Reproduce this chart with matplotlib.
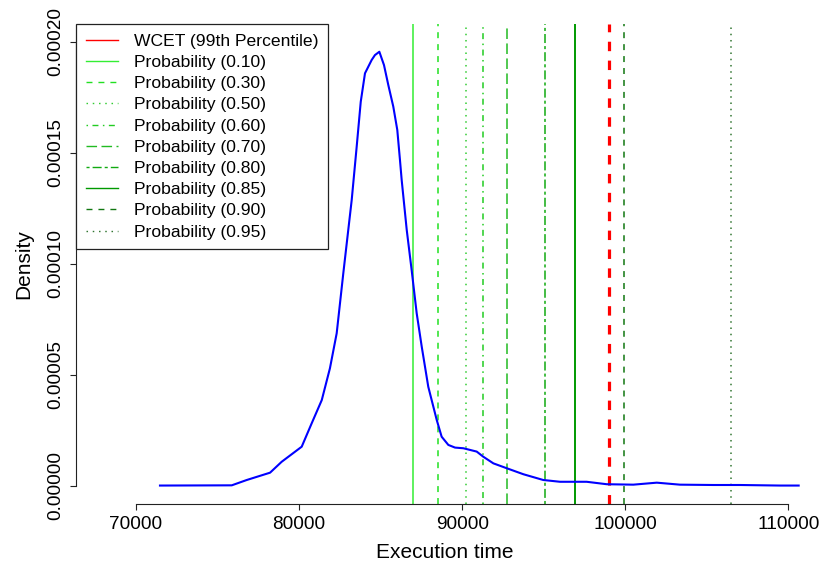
import numpy as np
import matplotlib.pyplot as plt
from matplotlib.lines import Line2D

plt.rcParams['font.family'] = ['Liberation Sans', 'DejaVu Sans']
plt.rcParams['lines.scale_dashes'] = False

# density curve
exec_time = [71470, 75870, 76790, 78220, 78930, 80160, 80770, 81390, 81890, 82305,
             82710, 83225, 83530, 83780, 84040, 84450, 84650, 84920, 85205, 85470,
             85775, 86020, 86185, 86290, 86600, 86900, 87210, 87520, 87920, 88440,
             88740, 89150, 89560, 90070, 90890, 91290, 91910, 92730, 93750, 94970,
             96000, 97630, 98860, 100490, 101930, 103350, 105400, 107030, 109490, 110630]
density = [0.2, 0.3, 2.7, 6.0, 10.9, 17.7, 28.2, 38.7, 53.0, 68.8,
           95.8, 128.8, 152.8, 173.1, 185.9, 191.9, 194.1, 195.6, 189.6, 180.6,
           170.9, 160.4, 146.8, 137.8, 115.3, 97.3, 77.8, 62.7, 44.7, 29.7,
           22.2, 18.5, 17.3, 17.0, 15.5, 13.2, 10.2, 8.0, 5.3, 2.7,
           1.9, 1.9, 0.8, 0.6, 1.5, 0.6, 0.45, 0.45, 0.2, 0.2]
density = np.array(density) * 1e-6

wcet = 98981
prob_labels = ["0.10", "0.30", "0.50", "0.60", "0.70", "0.80", "0.85", "0.90", "0.95"]
prob_values = [86965, 88535, 90213, 91295, 92766, 95057, 96896, 99901, 106481]

prob_colors = ['#33ee33', '#22e022', '#33cc33', '#22cc22', '#22bb22',
               '#11aa11', '#009900', '#117711', '#337733']
prob_dashes = [None, (4.3, 4.3), (1.1, 3.4), (1.1, 3.2, 4.3, 3.2), (7.6, 3.2),
               (2.2, 2.2, 6.5, 2.2), None, (4.3, 4.3), (1.1, 3.4)]
prob_widths = [1.1, 1.1, 1.1, 1.1, 1.1, 1.1, 1.4, 1.1, 1.1]

fig = plt.figure(figsize=(8.23, 5.70), dpi=100)
ax = fig.add_axes([76/823, 66/570, (813-76)/823, (504-24)/570])

ax.plot(exec_time, density, color='#0000ff', lw=1.5, zorder=3)

ax.axvline(wcet, color='#ff0000', lw=2.3, dashes=(6.8, 6.8))
handles = [Line2D([], [], color='#ff0000', lw=1.0)]
labels = ['WCET (99th Percentile)']
for lab, v, c, d, w in zip(prob_labels, prob_values, prob_colors, prob_dashes, prob_widths):
    kw = {} if d is None else {'dashes': d}
    ax.axvline(v, color=c, lw=w, **kw)
    handles.append(Line2D([], [], color=c, lw=1.0, **kw))
    labels.append(f'Probability ({lab})')

ax.set_xlim(66321, 111509)
ax.set_ylim(-8.11e-6, 208.1e-6)

for s in ['top', 'right']:
    ax.spines[s].set_visible(False)
ax.spines['left'].set_bounds(0, 0.0002)
ax.spines['bottom'].set_bounds(70000, 110000)
for s in ['left', 'bottom']:
    ax.spines[s].set_linewidth(0.8)
    ax.spines[s].set_color('#222222')

ax.set_xticks([70000, 80000, 90000, 100000, 110000])
ax.set_xticklabels(['70000', '80000', '90000', '100000', '110000'])
yt = [0, 0.00005, 0.0001, 0.00015, 0.0002]
ax.set_yticks(yt)
ax.set_yticklabels([f'{v:.5f}' for v in yt], rotation=90, va='center')
ax.tick_params(direction='out', length=4.5, width=0.8, color='#222222',
               labelsize=13.7, pad=4)

ax.set_xlabel('Execution time', fontsize=15, labelpad=7.5)
ax.set_ylabel('Density', fontsize=15, labelpad=10)

leg = ax.legend(handles, labels, loc='upper left', borderaxespad=0,
                fontsize=12.6, fancybox=False, framealpha=1, edgecolor='#222222',
                handlelength=1.86, handletextpad=0.9, labelspacing=0.34,
                borderpad=0.55)
leg.get_frame().set_linewidth(0.9)

fig.savefig('out.png', dpi=100)
